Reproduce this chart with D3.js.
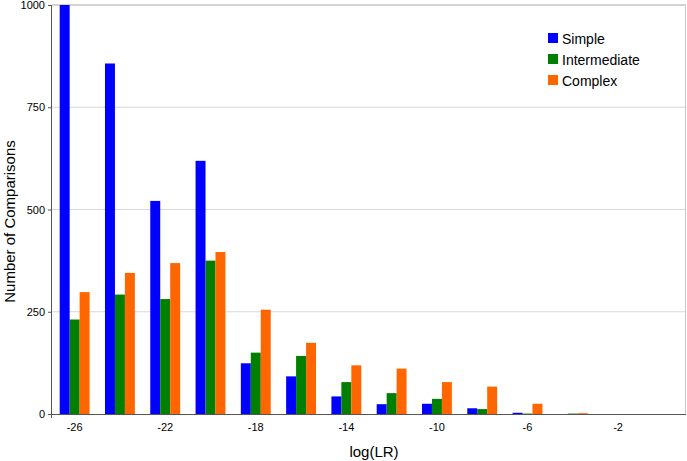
<!DOCTYPE html>
<html><head><meta charset="utf-8">
<script src="https://cdn.jsdelivr.net/npm/d3@7"></script>
<style>body{margin:0;background:#fff;}svg{display:block;font-family:"Liberation Sans",Arial,sans-serif;}</style>
</head><body><svg id="c" width="687" height="461"></svg>
<script>
const categories = ["-26","-24","-22","-20","-18","-16","-14","-12","-10","-8","-6","-4","-2","0"];
const tickLabels = ["-26","-22","-18","-14","-10","-6","-2"];
const simple = [1000,857,521,619,124,92,43,24,25,14,3,0,0,0];
const intermediate = [231,292,281,375,150,142,78,51,37,12,1,1,0,0];
const complex = [298,345,369,396,255,174,119,111,78,67,25,2,0,0];
const seriesNames = ["Simple","Intermediate","Complex"];
const colors = ["#0000ff","#007f00","#ff6600"];
const yTicks = [0,250,500,750,1000];

const svg = d3.select("#c");
const m = {l:52, r:1, t:5, b:47};
const W = 687, H = 461;
const x = d3.scaleBand().domain(categories).range([m.l, W-m.r]).paddingInner(0.34).paddingOuter(0.17);
const y = d3.scaleLinear().domain([0,1000]).range([H-m.b, m.t]);
const xs = d3.scaleBand().domain(seriesNames).range([0, x.bandwidth()]);

// gridlines
svg.append("g").selectAll("line").data(yTicks.filter(d=>d>0)).join("line")
  .attr("x1", m.l).attr("x2", W-m.r).attr("y1", d=>y(d)).attr("y2", d=>y(d))
  .attr("stroke", d=> d===1000 ? "#c4c4c4" : "#d8d8d8").attr("stroke-width", d=> d===1000?1.5:1);
// right border
svg.append("line").attr("x1", W-m.r-0.5).attr("x2", W-m.r-0.5).attr("y1", y(1000)).attr("y2", y(0)).attr("stroke","#c8c8c8");

const data = [simple, intermediate, complex];
const g = svg.append("g");
data.forEach((arr, si) => {
  g.append("g").selectAll("rect").data(arr.map((v,i)=>({v, c:categories[i]}))).join("rect")
    .attr("x", d => x(d.c) + xs(seriesNames[si]))
    .attr("width", xs.bandwidth())
    .attr("y", d => y(d.v))
    .attr("height", d => y(0) - y(d.v))
    .attr("fill", colors[si]);
});

// y axis
const ya = d3.axisLeft(y).tickValues(yTicks).tickSize(4).tickPadding(3).tickFormat(d3.format("d"));
const yg = svg.append("g").attr("transform", `translate(${m.l},0)`).call(ya);
yg.select(".domain").attr("stroke","#555").attr("d", `M-0.5,${y(1000)}V${y(0)+4}`);
yg.selectAll(".tick line").attr("stroke","#555");
yg.selectAll("text").attr("font-size", 11).attr("fill","#000").attr("font-family","Liberation Sans, Arial, sans-serif");

// x axis
const xa = d3.axisBottom(x).tickValues(tickLabels).tickSize(0).tickPadding(9);
const xg = svg.append("g").attr("transform", `translate(0,${y(0)})`).call(xa);
xg.select(".domain").attr("stroke","#555").attr("d", `M${m.l},0.5H${W-m.r}`);
xg.selectAll("text").attr("font-size", 11).attr("fill","#000").attr("font-family","Liberation Sans, Arial, sans-serif");

// titles
svg.append("text").attr("transform", `translate(15,221.5) rotate(-90)`)
  .attr("text-anchor","middle").attr("font-size",15).text("Number of Comparisons");
svg.append("text").attr("x", 374).attr("y", 457).attr("text-anchor","middle").attr("font-size",15).text("log(LR)");

// legend
const lg = svg.append("g").attr("transform","translate(548,33)");
seriesNames.forEach((n,i)=>{
  const row = lg.append("g").attr("transform",`translate(0,${i*21})`);
  row.append("rect").attr("width",10).attr("height",10).attr("fill",colors[i]);
  row.append("text").attr("x",14).attr("y",10.5).attr("font-size",14).text(n);
});
</script></body></html>
